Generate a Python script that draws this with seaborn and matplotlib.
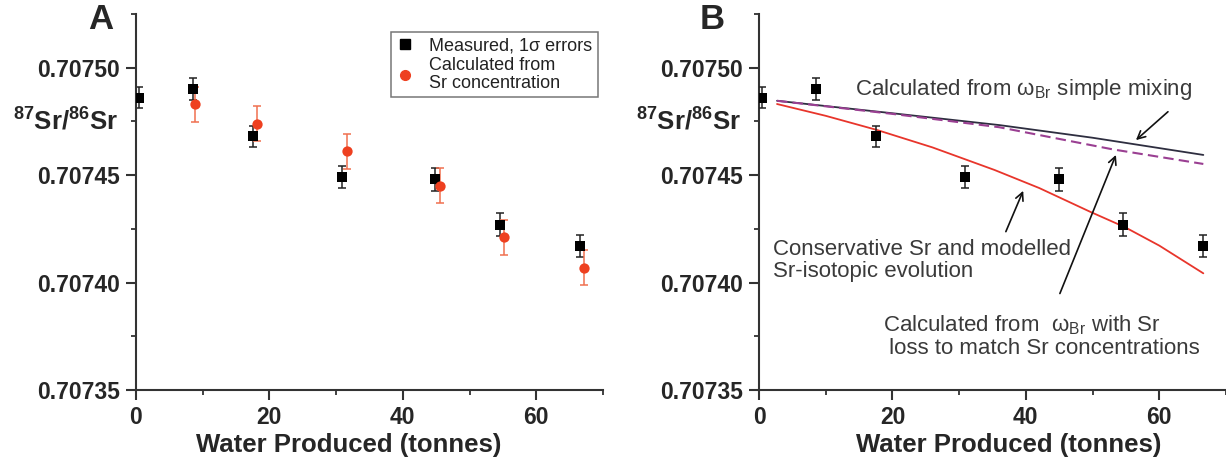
import matplotlib
matplotlib.use("Agg")
import matplotlib.pyplot as plt
from matplotlib.lines import Line2D
import seaborn as sns
import pandas as pd

# ---------------- data ----------------
water_meas = [0.5, 8.5, 17.6, 30.9, 44.9, 54.6, 66.5]
sr_meas = [0.707486, 0.707490, 0.707468, 0.707449, 0.707448, 0.707427, 0.707417]
err_meas = [0.0000049, 0.0000050, 0.0000050, 0.0000052, 0.0000052, 0.0000052, 0.0000050]

water_calc = [8.9, 18.2, 31.6, 45.5, 55.2, 67.1]
sr_calc = [0.707483, 0.707474, 0.707461, 0.707445, 0.707421, 0.707407]
err_calc = [0.0000081, 0.0000083, 0.0000082, 0.0000081, 0.0000081, 0.0000080]

mix_x = [2.7, 20.0, 36.0, 50.0, 66.6]
mix_y = [0.7074846, 0.7074788, 0.7074733, 0.7074674, 0.7074594]

loss_x = [2.7, 20.0, 36.0, 53.0, 66.6]
loss_y = [0.7074846, 0.7074785, 0.7074723, 0.7074620, 0.7074552]

cons_x = [2.7, 10.0, 17.7, 26.0, 35.3, 42.0, 49.6, 54.9, 60.0, 66.6]
cons_y = [0.7074831, 0.7074776, 0.7074710, 0.7074629, 0.7074524,
          0.7074440, 0.7074330, 0.7074257, 0.7074172, 0.7074043]

xticks = [0, 20, 40, 60]
yticks = [0.70735, 0.70740, 0.70745, 0.70750]
ytick_labels = ["0.70735", "0.70740", "0.70745", "0.70750"]

# ---------------- style ----------------
sns.set_theme(style="ticks")
plt.rcParams["font.family"] = ["Liberation Sans", "DejaVu Sans"]
plt.rcParams["mathtext.fontset"] = "custom"
plt.rcParams["mathtext.rm"] = "Liberation Sans"
plt.rcParams["mathtext.it"] = "Liberation Sans:italic"
plt.rcParams["mathtext.bf"] = "Liberation Sans:bold"

RED = "#ee4020"
RED_ERR = "#f07050"
AX_COL = "#333333"
TXT_COL = "#3a3a3a"

fig = plt.figure(figsize=(12.26, 4.63), dpi=100)
axA = fig.add_axes([0.1109, 0.1577, 0.3809, 0.8121])
axB = fig.add_axes([0.6191, 0.1577, 0.3809, 0.8121])

meas_df = pd.DataFrame({"water": water_meas, "sr": sr_meas, "err": err_meas})
calc_df = pd.DataFrame({"water": water_calc, "sr": sr_calc, "err": err_calc})


def style_axes(ax, letter, letter_x, xlabel_x):
    ax.set_xlim(0, 70)
    ax.set_ylim(0.70735, 0.707525)
    ax.set_xticks(xticks)
    ax.set_xticks([10, 30, 50, 70], minor=True)
    ax.set_yticks(yticks)
    ax.set_yticklabels(ytick_labels)
    ax.set_yticks([0.707375, 0.707425, 0.707475, 0.707525], minor=True)
    for s in ["top", "right"]:
        ax.spines[s].set_visible(False)
    for s in ["left", "bottom"]:
        ax.spines[s].set_color(AX_COL)
        ax.spines[s].set_linewidth(1.5)
    ax.tick_params(which="major", direction="out", length=7, width=1.5,
                   color=AX_COL, labelsize=16.5, pad=4.5)
    ax.tick_params(which="minor", direction="out", length=3.5, width=1.3,
                   color=AX_COL)
    for lab in ax.get_xticklabels() + ax.get_yticklabels():
        lab.set_fontweight("bold")
    ax.set_xlabel("Water Produced (tonnes)", fontsize=18.5, fontweight="bold")
    ax.xaxis.set_label_coords(xlabel_x, -0.165)
    ax.xaxis.label.set_verticalalignment("baseline")
    ax.set_ylabel(r"$^{\mathbf{87}}$Sr/$^{\mathbf{86}}$Sr", fontsize=18.5,
                  fontweight="bold", rotation=0, ha="right", va="center")
    ax.yaxis.set_label_coords(-0.038, 0.714)
    ax.text(letter_x, 0.985, letter, transform=ax.transAxes, fontsize=25,
            fontweight="bold", ha="center", va="center")
    ax.set_facecolor("white")


# ---------------- panel A ----------------
axA.errorbar(water_meas, sr_meas, yerr=err_meas, fmt="none", ecolor="#222222",
             elinewidth=1.1, capsize=3.2, capthick=1.1, zorder=2)
axA.errorbar(water_calc, sr_calc, yerr=err_calc, fmt="none", ecolor=RED_ERR,
             elinewidth=1.1, capsize=3.2, capthick=1.1, zorder=3)
sns.scatterplot(data=meas_df, x="water", y="sr", marker="s", s=48,
                color="black", edgecolor="black", linewidth=0, ax=axA, zorder=4)
sns.scatterplot(data=calc_df, x="water", y="sr", marker="o", s=55,
                color=RED, edgecolor=RED, linewidth=0, ax=axA, zorder=5)

handles = [
    Line2D([0], [0], marker="s", color="none", markerfacecolor="black",
           markeredgecolor="black", markersize=6.5),
    Line2D([0], [0], marker="o", color="none", markerfacecolor=RED,
           markeredgecolor=RED, markersize=7),
]
leg = axA.legend(handles, ["Measured, 1σ errors", "Calculated from\nSr concentration"],
                 loc="upper right", bbox_to_anchor=(0.989, 0.952), fontsize=13,
                 frameon=True, fancybox=False, edgecolor="#555555",
                 handlelength=0.9, handletextpad=0.9, borderpad=0.3,
                 labelspacing=0.15, borderaxespad=0.0)
leg.get_frame().set_linewidth(1.1)
for t in leg.get_texts():
    t.set_color("#222222")
    t.set_linespacing(1.05)

style_axes(axA, "A", -0.075, 0.456)

# ---------------- panel B ----------------
sns.lineplot(x=mix_x, y=mix_y, color="#2e2e40", linewidth=1.3, ax=axB, zorder=2)
sns.lineplot(x=loss_x, y=loss_y, color="#9a3f92", linewidth=1.5, ax=axB,
             linestyle=(0, (5, 2.5)), zorder=2)
sns.lineplot(x=cons_x, y=cons_y, color="#e8352b", linewidth=1.3, ax=axB, zorder=2)
axB.errorbar(water_meas, sr_meas, yerr=err_meas, fmt="none", ecolor="#222222",
             elinewidth=1.1, capsize=3.2, capthick=1.1, zorder=3)
sns.scatterplot(data=meas_df, x="water", y="sr", marker="s", s=48,
                color="black", edgecolor="black", linewidth=0, ax=axB, zorder=4)

axB.text(14.4, 0.707490, r"Calculated from ω$_{\mathrm{Br}}$ simple mixing",
         fontsize=16, color=TXT_COL, ha="left", va="center")
axB.text(2.1, 0.7074104, "Conservative Sr and modelled\nSr-isotopic evolution",
         fontsize=16, color=TXT_COL, ha="left", va="center", linespacing=1.05)
axB.text(18.6, 0.7073752,
         "Calculated from  ω$_{\\mathrm{Br}}$ with Sr\n loss to match Sr concentrations",
         fontsize=16, color=TXT_COL, ha="left", va="center", linespacing=1.05)

arrow_kw = dict(arrowstyle="->", color="#111111", lw=1.2,
                mutation_scale=14, shrinkA=0, shrinkB=0)
axB.annotate("", xy=(56.5, 0.7074663), xytext=(61.3, 0.7074795), arrowprops=arrow_kw)
axB.annotate("", xy=(39.6, 0.7074427), xytext=(37.0, 0.7074237), arrowprops=arrow_kw)
axB.annotate("", xy=(53.5, 0.7074594), xytext=(45.1, 0.7073949), arrowprops=arrow_kw)

style_axes(axB, "B", -0.10, 0.535)

fig.savefig("out.png", dpi=100, facecolor="white")
